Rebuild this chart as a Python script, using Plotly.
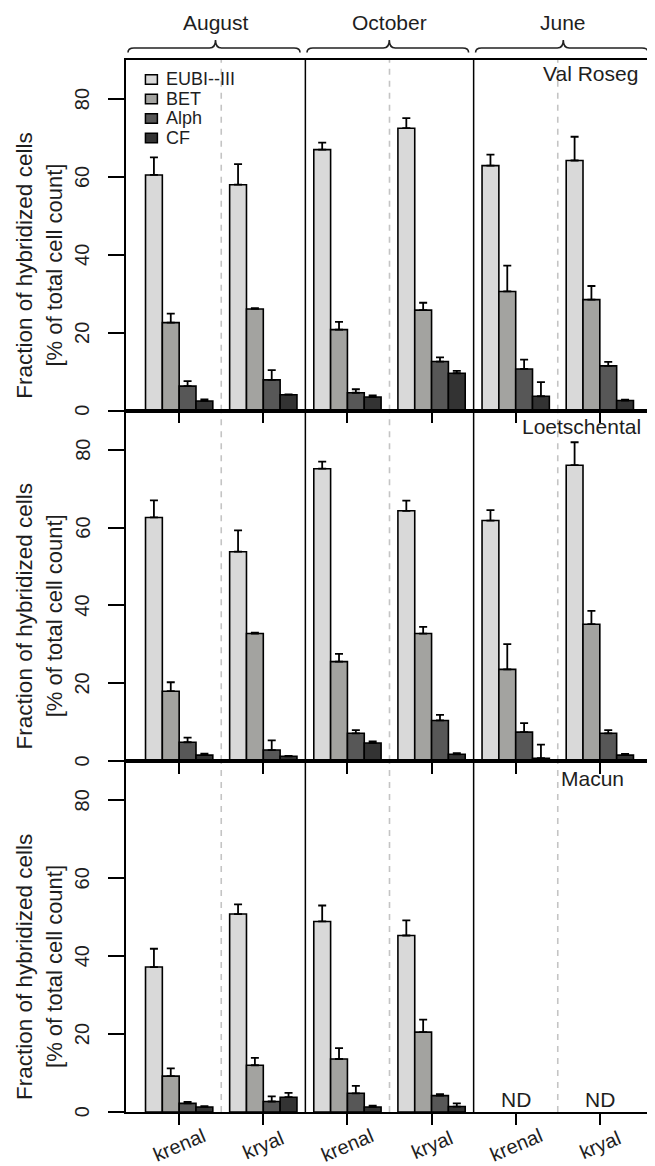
import plotly.graph_objects as go
from plotly.subplots import make_subplots

# ---------------- data ----------------
regions = ["Val Roseg", "Loetschental", "Macun"]
months = ["August", "October", "June"]
sites = ["krenal", "kryal"]
groups = [m + " " + s for m in months for s in sites]
probes = ["EUBI--III", "BET", "Alph", "CF"]
probe_colors = ["#d9d9d9", "#a3a3a0", "#575757", "#333333"]
y_ticks = [0, 20, 40, 60, 80]

# Val Roseg (mean, SE) in group order: Aug-krenal, Aug-kryal, Oct-krenal, Oct-kryal, Jun-krenal, Jun-kryal
vr_eubi = [60.5, 58.0, 67.0, 72.5, 62.9, 64.2]
vr_eubi_se = [4.5, 5.3, 1.8, 2.6, 2.8, 6.1]
vr_bet = [22.6, 26.1, 20.8, 25.8, 30.6, 28.5]
vr_bet_se = [2.3, 0.2, 2.0, 1.9, 6.6, 3.5]
vr_alph = [6.3, 7.9, 4.6, 12.6, 10.7, 11.5]
vr_alph_se = [1.3, 2.5, 0.9, 1.1, 2.4, 1.0]
vr_cf = [2.5, 4.1, 3.5, 9.6, 3.7, 2.6]
vr_cf_se = [0.4, 0.1, 0.4, 0.6, 3.6, 0.2]

# Loetschental
lo_eubi = [62.6, 53.8, 75.1, 64.3, 61.8, 76.0]
lo_eubi_se = [4.4, 5.5, 1.8, 2.6, 2.7, 5.9]
lo_bet = [18.0, 32.8, 25.6, 32.8, 23.6, 35.2]
lo_bet_se = [2.3, 0.2, 2.0, 1.7, 6.5, 3.4]
lo_alph = [4.9, 2.9, 7.2, 10.5, 7.5, 7.2]
lo_alph_se = [1.2, 2.5, 0.8, 1.4, 2.3, 0.8]
lo_cf = [1.6, 1.3, 4.7, 1.8, 0.8, 1.6]
lo_cf_se = [0.4, 0.1, 0.4, 0.3, 3.5, 0.3]

# Macun (June not determined)
ma_eubi = [37.2, 50.8, 48.9, 45.3, None, None]
ma_eubi_se = [4.7, 2.5, 4.1, 3.9, None, None]
ma_bet = [9.2, 12.0, 13.6, 20.5, None, None]
ma_bet_se = [2.0, 1.9, 2.8, 3.2, None, None]
ma_alph = [2.2, 2.7, 4.8, 4.2, None, None]
ma_alph_se = [0.4, 1.3, 1.9, 0.4, None, None]
ma_cf = [1.3, 3.8, 1.3, 1.4, None, None]
ma_cf_se = [0.2, 1.1, 0.3, 0.8, None, None]
nd_label = "ND"

region_values = [
    [vr_eubi, vr_bet, vr_alph, vr_cf],
    [lo_eubi, lo_bet, lo_alph, lo_cf],
    [ma_eubi, ma_bet, ma_alph, ma_cf],
]
region_errors = [
    [vr_eubi_se, vr_bet_se, vr_alph_se, vr_cf_se],
    [lo_eubi_se, lo_bet_se, lo_alph_se, lo_cf_se],
    [ma_eubi_se, ma_bet_se, ma_alph_se, ma_cf_se],
]

# ---------------- layout helpers ----------------
W, H = 655, 1166
ML, MR, MT, MB = 118, 8, 52, 62
PW, PH = W - ML - MR, H - MT - MB
FONT = "Liberation Sans, Arial, sans-serif"
TXT = "#1e1e1e"


def px_x(x):
    return (x - ML) / PW


def px_y(y):
    return 1 - (y - MT) / PH


fig = make_subplots(rows=3, cols=1, vertical_spacing=0)

for r in range(3):
    for k in range(4):
        vals = region_values[r][k]
        errs = region_errors[r][k]
        fig.add_trace(
            go.Bar(
                x=groups,
                y=vals,
                name=probes[k],
                marker=dict(color=probe_colors[k], line=dict(color="black", width=1.6)),
                error_y=dict(
                    type="data",
                    symmetric=False,
                    array=[e if e is not None else 0 for e in errs],
                    arrayminus=[0] * len(errs),
                    color="black",
                    thickness=1.8,
                    width=4,
                ),
                showlegend=False,
            ),
            row=r + 1,
            col=1,
        )

n = len(groups)
for r in range(3):
    fig.update_xaxes(
        row=r + 1, col=1,
        type="category",
        range=[-0.632, n - 1 + 0.632],
        tickvals=groups,
        showticklabels=False,
        ticks="outside", ticklen=11, tickwidth=1.5, tickcolor="black",
        showline=True, linecolor="black", linewidth=1.6, mirror=True,
        showgrid=False, zeroline=False,
    )
    fig.update_yaxes(
        row=r + 1, col=1,
        range=[0, 90],
        tickvals=y_ticks,
        showticklabels=False,
        ticks="outside", ticklen=16, tickwidth=1.5, tickcolor="black",
        showline=True, linecolor="black", linewidth=1.6, mirror=True,
        showgrid=False, zeroline=False,
    )

shapes = []
annotations = []

# y tick labels, rotated parallel to the axis
for r in range(3):
    yr = "y" if r == 0 else f"y{r + 1}"
    for t in y_ticks:
        annotations.append(dict(xref="paper", yref=yr, x=px_x(74), y=t, text=str(t),
                                textangle=-90, showarrow=False, xanchor="center", yanchor="middle",
                                font=dict(family=FONT, size=20, color=TXT)))

# separators: dashed between sites, solid between months
for r in range(3):
    xr = "x" if r == 0 else f"x{r + 1}"
    yd = ("y" if r == 0 else f"y{r + 1}") + " domain"
    for i in range(n - 1):
        pos = i + 0.5
        if i % 2 == 0:
            shapes.append(dict(type="line", xref=xr, yref=yd, x0=pos, x1=pos, y0=0, y1=1,
                               line=dict(color="#c4c4c4", width=1.6, dash="6px,6px"), layer="below"))
        else:
            shapes.append(dict(type="line", xref=xr, yref=yd, x0=pos, x1=pos, y0=0, y1=1,
                               line=dict(color="black", width=1.5)))

# braces + month labels on top
col_edges = [118, 297.7, 466.9, 647]
for c, m in enumerate(months):
    a, b = col_edges[c] + 2, col_edges[c + 1] - 5
    mid = (col_edges[c] + col_edges[c + 1]) / 2
    ye, yh, yt = 44.5, 40, 32
    pts = [
        ("M", a, ye), ("Q", a, yh), ("", a + 6, yh), ("L", mid - 6, yh),
        ("Q", mid, yh), ("", mid, yt), ("Q", mid, yh), ("", mid + 6, yh),
        ("L", b - 6, yh), ("Q", b, yh), ("", b, ye),
    ]
    path = " ".join(f"{cmd} {px_x(x):.5f},{px_y(y):.5f}".strip() for cmd, x, y in pts)
    shapes.append(dict(type="path", xref="paper", yref="paper", path=path,
                       line=dict(color="#222222", width=1.6)))
    annotations.append(dict(xref="paper", yref="paper", x=px_x(mid), y=px_y(15),
                            text=m, showarrow=False, xanchor="center", yanchor="middle",
                            font=dict(family=FONT, size=21, color=TXT)))

# region labels
region_label_pos = [(584, 66), (575, 419), (586, 770)]
for r, name in enumerate(regions):
    lx, ly = region_label_pos[r]
    annotations.append(dict(xref="paper", yref="paper", x=px_x(lx), y=px_y(ly), text=name,
                            showarrow=False, xanchor="center", yanchor="middle",
                            font=dict(family=FONT, size=21, color=TXT)))

# y-axis titles
row_h = PH / 3
for r in range(3):
    cy = MT + row_h * r + row_h / 2 + 30
    annotations.append(dict(xref="paper", yref="paper", x=px_x(16), y=px_y(cy),
                            text="Fraction of hybridized cells", textangle=-90, showarrow=False,
                            xanchor="center", yanchor="middle",
                            font=dict(family=FONT, size=22.5, color=TXT)))
    annotations.append(dict(xref="paper", yref="paper", x=px_x(46), y=px_y(cy),
                            text="[% of total cell count]", textangle=-90, showarrow=False,
                            xanchor="center", yanchor="middle",
                            font=dict(family=FONT, size=22, color=TXT)))

# x labels (bottom row only), centered on ticks, angled
for g, s in zip(groups, [sites[i % 2] for i in range(n)]):
    annotations.append(dict(xref="x3", yref="paper", x=g, y=px_y(1137), text=s,
                            textangle=-23, showarrow=False, xanchor="center", yanchor="middle",
                            borderpad=0,
                            font=dict(family=FONT, size=20, color=TXT)))

# ND labels for Macun June
for i in range(n):
    if region_values[2][0][i] is None:
        annotations.append(dict(xref="x3", yref="y3", x=groups[i], y=3.2, text=nd_label,
                                showarrow=False, xanchor="center", yanchor="middle",
                                font=dict(family=FONT, size=21, color=TXT)))

# custom legend (top-left of first row)
leg_y = [71.5, 91.0, 110.5, 130.0]
for k in range(4):
    shapes.append(dict(type="rect", xref="paper", yref="paper",
                       x0=px_x(137.5), x1=px_x(149.5), y0=px_y(leg_y[k] - 4.8), y1=px_y(leg_y[k] + 4.8),
                       fillcolor=probe_colors[k], line=dict(color="black", width=1.5)))
    annotations.append(dict(xref="paper", yref="paper", x=px_x(156), y=px_y(leg_y[k] - 0.5),
                            text=probes[k], showarrow=False, xanchor="left", yanchor="middle",
                            font=dict(family=FONT, size=18, color=TXT)))

fig.update_layout(
    width=W, height=H,
    margin=dict(l=ML, r=MR, t=MT, b=MB),
    barmode="group", bargap=0.2, bargroupgap=0,
    plot_bgcolor="white", paper_bgcolor="white",
    shapes=shapes, annotations=annotations,
    font=dict(family=FONT, color=TXT),
)

fig.write_html("out.html")
